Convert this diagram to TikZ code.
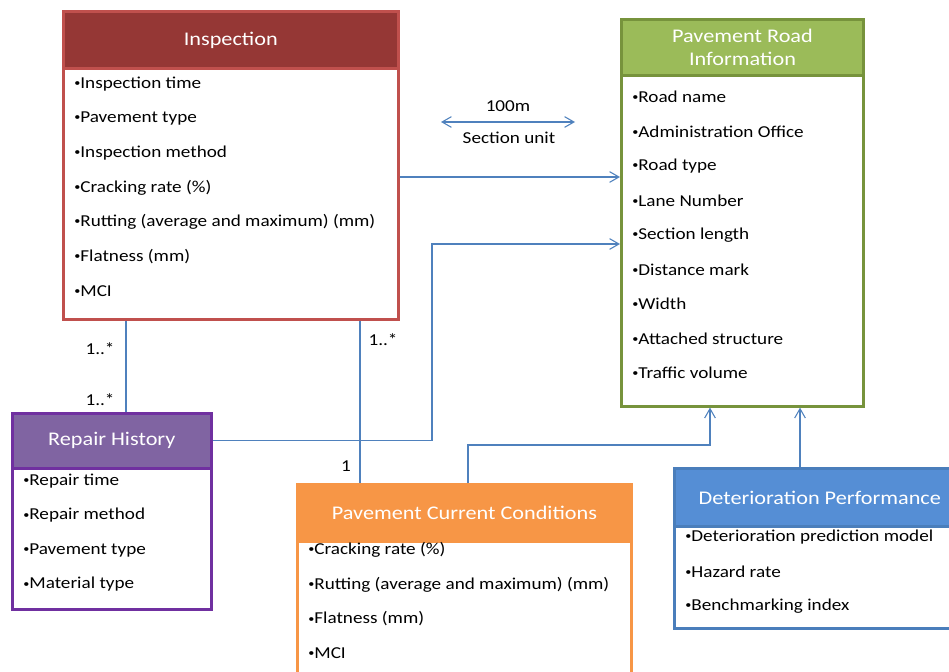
\documentclass[tikz,border=0pt]{standalone}
\usepackage{fontspec}
\setmainfont{Carlito}[FakeStretch=1.15]
\usetikzlibrary{arrows.meta, positioning, calc}
\definecolor{inspfill}{HTML}{953735}
\definecolor{inspline}{HTML}{C0504D}
\definecolor{roadfill}{HTML}{9BBB59}
\definecolor{roadline}{HTML}{77933C}
\definecolor{repfill}{HTML}{8064A2}
\definecolor{repline}{HTML}{7030A0}
\definecolor{condfill}{HTML}{F79646}
\definecolor{perffill}{HTML}{558ED5}
\definecolor{perfline}{HTML}{4A7EBB}
\definecolor{linkblue}{HTML}{4F81BD}
\newcommand{\bul}{{\fontsize{8}{8}\selectfont\raisebox{1.4pt}{•}}}

\tikzset{
  classbox/.style={draw=#1, fill=white, line width=2.2pt, anchor=north west, inner sep=0pt},
  classhead/.style={classbox=#1, text=white, font=\fontsize{14.5}{17}\selectfont, align=center},
  item/.style={anchor=west, inner sep=0pt, font=\fontsize{12.5}{15}\selectfont},
  mult/.style={inner sep=0pt, font=\fontsize{12.5}{15}\selectfont},
  link/.style={draw=linkblue, line width=0.8pt},
  linkarrow/.style={link, -{Straight Barb[length=7pt, width=8pt]}}
}

\begin{document}
\begin{tikzpicture}[x=0.75pt, y=-0.75pt]
    \useasboundingbox (0,0) rectangle (949,671);
    % Inspection
    \node[classbox=inspline, minimum width=251pt, minimum height=231pt] (insp) at (62,10) {};
    \node[classhead=inspline, fill=inspfill, minimum width=251pt, minimum height=43pt] (insp-h) at (62,10) {Inspection};
    \foreach \txt [count=\i] in {{Inspection time}, {Pavement type}, {Inspection method}, {Cracking rate (\%)}, {Rutting (average and maximum) (mm)}, {Flatness (mm)}, {MCI}}
      \node[item] (insp-\i) at (74, {84+34.5*(\i-1)}) {\bul\txt};
    % Pavement Road Information
    \node[classbox=roadline, minimum width=181.5pt, minimum height=290pt] (road) at (620,18) {};
    \node[classhead=roadline, fill=roadfill, minimum width=181.5pt, minimum height=42pt] (road-h) at (620,18) {Pavement Road\\Information};
    \foreach \txt [count=\i] in {{Road name}, {Administration Office}, {Road type}, {Lane Number}, {Section length}, {Distance mark}, {Width}, {Attached structure}, {Traffic volume}}
      \node[item] (road-\i) at (632, {97+34.5*(\i-1)}) {\bul\txt};
    % Repair History
    \node[classbox=repline, minimum width=149pt, minimum height=147pt] (rep) at (11,412) {};
    \node[classhead=repline, fill=repfill, minimum width=149pt, minimum height=41pt] (rep-h) at (11,412) {Repair History};
    \foreach \txt [count=\i] in {{Repair time}, {Repair method}, {Pavement type}, {Material type}}
      \node[item] (rep-\i) at (23, {481+34.5*(\i-1)}) {\bul\txt};
    % Pavement Current Conditions
    \node[classbox=condfill, minimum width=250.5pt, minimum height=160pt] (cond) at (296,483) {};
    \node[classhead=condfill, fill=condfill, minimum width=250.5pt, minimum height=43pt] (cond-h) at (296,483) {Pavement Current Conditions};
    \foreach \txt [count=\i] in {{Cracking rate (\%)}, {Rutting (average and maximum) (mm)}, {Flatness (mm)}, {MCI}}
      \node[item] (cond-\i) at (308, {550+34.5*(\i-1)}) {\bul\txt};
    % Deterioration Performance
    \node[classbox=perfline, minimum width=218pt, minimum height=120pt] (perf) at (673,467) {};
    \node[classhead=perfline, fill=perffill, minimum width=218pt, minimum height=43.5pt] (perf-h) at (673,467) {Deterioration Performance};
    \foreach \txt [count=\i] in {{Deterioration prediction model}, {Hazard rate}, {Benchmarking index}}
      \node[item] (perf-\i) at (685, {537+34.5*(\i-1)}) {\bul\txt};

    % Section unit
    \node[mult] (len) at (508,106) {100m};
    \node[mult] (unit) at (509,138) {Section unit};
    \coordinate (u1) at (441,122);
    \coordinate (u2) at (575,122);
    \draw[link, {Straight Barb[length=7pt, width=8pt]}-{Straight Barb[length=7pt, width=8pt]}] (u1) -- (u2);

    % Connectors
    \coordinate (r1) at (0,177);
    \coordinate (bend1) at (432,244);
    \coordinate (c126) at (126,0);
    \coordinate (c360) at (360,0);
    \coordinate (c468) at (468,0);
    \coordinate (bend2) at (710,445);
    \coordinate (c800) at (800,0);
    \draw[linkarrow] (insp.east |- r1) -- (road.west |- r1);
    \draw[linkarrow] (rep-h.east) -| (bend1) -- (road.west |- bend1);
    \draw[link] (insp.south -| c126) -- (rep.north -| c126);
    \draw[link] (insp.south -| c360) -- (cond.north -| c360);
    \draw[linkarrow] (cond.north -| c468) |- (bend2) -- (road.south -| bend2);
    \draw[linkarrow] (perf.north -| c800) -- (road.south -| c800);
    % Multiplicities
    \node[mult] (m1) at (100,349) {1..*};
    \node[mult] (m2) at (100,400) {1..*};
    \node[mult] (m3) at (383,340) {1..*};
    \node[mult] (m4) at (346,466) {1};
\end{tikzpicture}
\end{document}
